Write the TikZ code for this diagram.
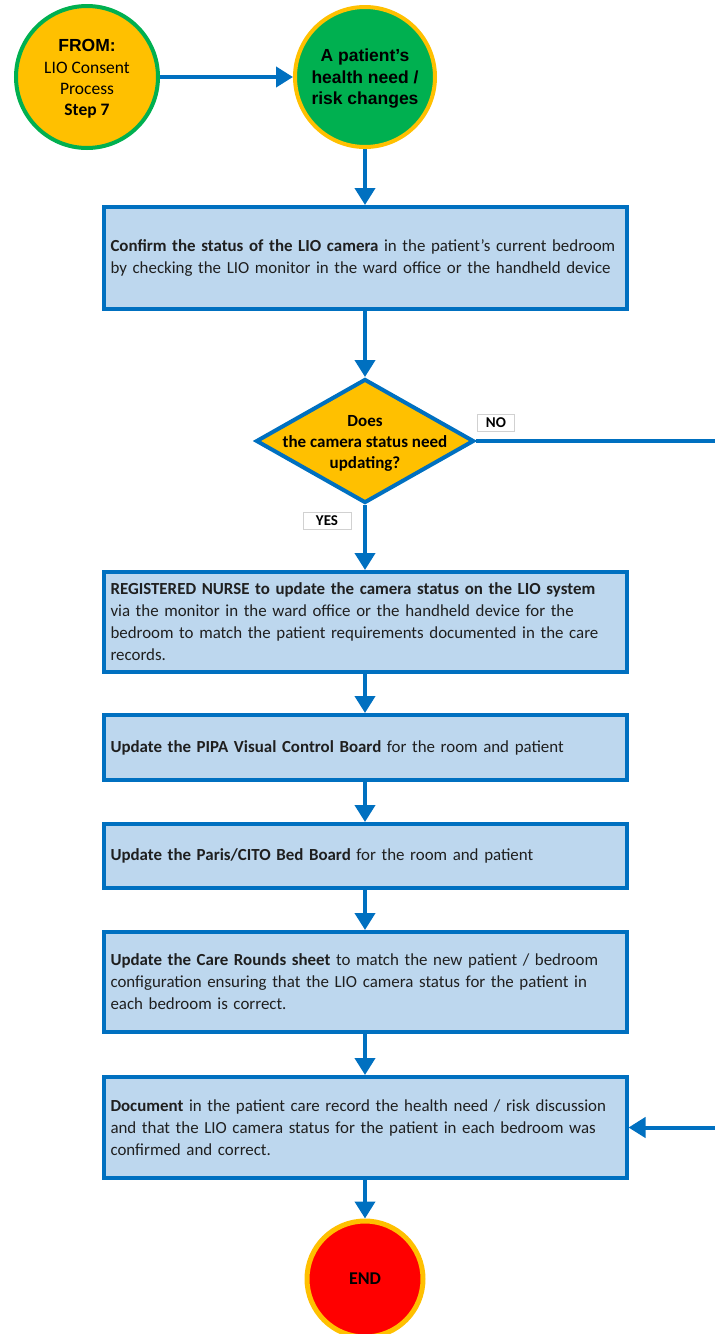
\documentclass[tikz,border=0pt]{standalone}
\usepackage{fontspec}
\setmainfont{Carlito}
\newfontfamily\arialfont{Liberation Sans}
\usetikzlibrary{arrows.meta,shapes.geometric,shadows}
\definecolor{flowblue}{HTML}{0070C0}
\definecolor{boxfill}{HTML}{BDD7EE}
\definecolor{amber}{HTML}{FFC000}
\definecolor{okgreen}{HTML}{00B050}
\definecolor{stopred}{HTML}{FF0000}
\definecolor{ink}{HTML}{1F1F1F}

\begin{document}
\begin{tikzpicture}[x=1pt,y=-1pt,
  stepbox/.style={rectangle, draw=flowblue, line width=4pt, fill=boxfill,
    text width=509pt, inner xsep=7pt, inner ysep=0pt, minimum height=#1,
    align=left, text=ink, font=\fontsize{16.9}{22}\selectfont,
    drop shadow={opacity=0.18, shadow xshift=1.5pt, shadow yshift=-1.5pt}},
  roundel/.style={circle, line width=4pt, inner sep=0pt, minimum size=#1,
    align=center, text=black},
  flow/.style={draw=flowblue, line width=4pt},
  arr/.style={flow, -{Triangle[width=20pt,length=17pt]}},
  tag/.style={rectangle, draw=black!18, line width=0.6pt, fill=white,
    inner sep=0pt, minimum height=17pt, font=\fontsize{15}{16}\selectfont\bfseries}
]
\useasboundingbox (0,0) rectangle (715,1334);

% start / trigger circles
\node[roundel=142pt, draw=okgreen, fill=amber] (from) at (87,77) {};
\node[align=center, text=black, font=\fontsize{17.5}{21.3}\selectfont]
  (fromtext) at (87,79)
  {\arialfont\bfseries FROM:\\
   LIO Consent\\
   Process\\
   \bfseries Step 7};
\node[roundel=140pt, draw=amber, fill=okgreen] (pat) at (365,77) {};
\node[align=center, text=black, font=\arialfont\bfseries\fontsize{17.5}{21.5}\selectfont]
  (pattext) at (365,79) {A patient’s\\health need /\\risk changes};

% process steps
\node[stepbox=102pt] (b1) at (365,258)
  {\textbf{Confirm the status of the LIO camera} in the patient’s current bedroom\\
   by checking the LIO monitor in the ward office or the handheld device};

\node[diamond, draw=flowblue, fill=amber, line width=4pt, inner sep=0pt,
      minimum width=218pt, minimum height=124pt] (dec) at (365,441) {};
\node[align=center, font=\fontsize{17}{21}\selectfont\bfseries, text=black]
  (dectext) at (365,443) {Does\\the camera status need\\updating?};

\node[stepbox=100pt] (b2) at (365,622)
  {\textbf{REGISTERED NURSE to update the camera status on the LIO system}\\
   via the monitor in the ward office or the handheld device for the\\
   bedroom to match the patient requirements documented in the care\\
   records.};

\node[stepbox=65pt] (b3) at (365,747.5)
  {\textbf{Update the PIPA Visual Control Board} for the room and patient};

\node[stepbox=64pt] (b4) at (365,856)
  {\textbf{Update the Paris/CITO Bed Board} for the room and patient};

\node[stepbox=100pt] (b5) at (365,982)
  {\textbf{Update the Care Rounds sheet} to match the new patient / bedroom\\
   configuration ensuring that the LIO camera status for the patient in\\
   each bedroom is correct.};

\node[stepbox=101pt] (b6) at (365,1127.5)
  {\textbf{Document} in the patient care record the health need / risk discussion\\
   and that the LIO camera status for the patient in each bedroom was\\
   confirmed and correct.};

\node[roundel=116pt, draw=amber, fill=stopred, line width=5pt,
      font=\fontsize{18}{20}\selectfont\bfseries] (end) at (365,1279) {END};

% branch labels
\node[tag, minimum width=37pt] (no) at (496,423) {NO};
\node[tag, minimum width=48pt] (yes) at (327,521) {YES};

% connectors
\coordinate (noout) at (715,441);
\coordinate (noin) at (715,1127.5);

\draw[arr] (from) -- (pat);
\draw[arr] (pat) -- (b1);
\draw[arr] (b1) -- (dec);
\draw[arr] (dec) -- (b2);
\draw[arr] (b2) -- (b3);
\draw[arr] (b3) -- (b4);
\draw[arr] (b4) -- (b5);
\draw[arr] (b5) -- (b6);
\draw[arr] (b6) -- (end);
\draw[flow] (dec.east) -- (noout);
\draw[arr] (noin) -- (b6.east);
\end{tikzpicture}
\end{document}
